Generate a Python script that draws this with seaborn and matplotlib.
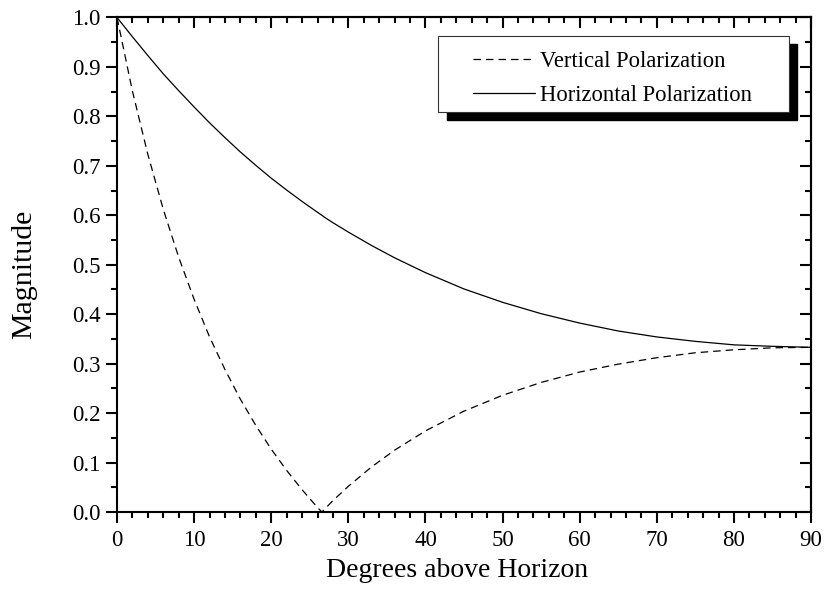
import matplotlib
matplotlib.use("Agg")
import matplotlib.pyplot as plt
import seaborn as sns
import pandas as pd
from matplotlib.patches import Rectangle
from matplotlib.ticker import MultipleLocator

# Values (degrees above horizon vs magnitude)
angle_deg = [0, 2, 4, 6, 8, 10, 12, 14, 16, 18, 20, 22, 24, 26, 26.57, 27, 28,
             30, 33, 36, 40, 45, 50, 55, 60, 65, 70, 75, 80, 85, 90]
vertical_mag = [1.000, 0.851, 0.723, 0.612, 0.515, 0.430, 0.354, 0.288, 0.228,
                0.175, 0.127, 0.084, 0.045, 0.009, 0.000, 0.007, 0.023, 0.052,
                0.091, 0.125, 0.164, 0.204, 0.236, 0.262, 0.283, 0.299, 0.312,
                0.322, 0.328, 0.332, 0.333]
horizontal_mag = [1.000, 0.961, 0.923, 0.886, 0.852, 0.819, 0.787, 0.757, 0.728,
                  0.701, 0.675, 0.651, 0.628, 0.606, 0.600, 0.595, 0.585, 0.566,
                  0.539, 0.514, 0.484, 0.451, 0.424, 0.401, 0.382, 0.366, 0.354,
                  0.345, 0.338, 0.335, 0.333]
series_labels = ["Vertical Polarization", "Horizontal Polarization"]
x_label = "Degrees above Horizon"
y_label = "Magnitude"

df_v = pd.DataFrame({"angle": angle_deg, "mag": vertical_mag})
df_h = pd.DataFrame({"angle": angle_deg, "mag": horizontal_mag})

sns.set_theme(style="white")
plt.rcParams["font.family"] = ["Liberation Serif", "DejaVu Serif"]

fig = plt.figure(figsize=(8.27, 5.91), dpi=100)
fig.patch.set_facecolor("white")
ax = fig.add_axes([0.1415, 0.1337, 0.9807 - 0.1415, 0.9704 - 0.1337])
ax.set_facecolor("white")

sns.lineplot(data=df_v, x="angle", y="mag", ax=ax, color="black", lw=0.9,
             label=series_labels[0], estimator=None, sort=False)
ax.lines[-1].set_dashes((6, 4))
sns.lineplot(data=df_h, x="angle", y="mag", ax=ax, color="black", lw=0.9,
             label=series_labels[1], estimator=None, sort=False)

ax.set_xlim(0, 90)
ax.set_ylim(0, 1.0)
ax.xaxis.set_major_locator(MultipleLocator(10))
ax.xaxis.set_minor_locator(MultipleLocator(2))
ax.yaxis.set_major_locator(MultipleLocator(0.1))
ax.yaxis.set_minor_locator(MultipleLocator(0.05))
ax.yaxis.set_major_formatter(matplotlib.ticker.FormatStrFormatter("%.1f"))

for s in ax.spines.values():
    s.set_visible(True)
    s.set_color("black")
    s.set_linewidth(1.5)

ax.tick_params(axis="both", which="major", direction="out", length=8, width=1.5,
               color="black", labelsize=16.5, labelcolor="black")
ax.tick_params(axis="both", which="minor", direction="out", length=4.5, width=1.5,
               color="black")
ax.tick_params(axis="x", which="major", pad=5)
ax.tick_params(axis="y", which="major", pad=4)
ax.tick_params(left=True, bottom=True, which="both")

# top and right ticks pointing inward
top = ax.secondary_xaxis("top")
top.xaxis.set_major_locator(MultipleLocator(10))
top.xaxis.set_minor_locator(MultipleLocator(2))
top.tick_params(which="major", direction="in", length=8, width=1.5, labeltop=False, color="black")
top.tick_params(which="minor", direction="in", length=4.5, width=1.5, color="black")
top.spines["top"].set_linewidth(1.5)
right = ax.secondary_yaxis("right")
right.yaxis.set_major_locator(MultipleLocator(0.1))
right.yaxis.set_minor_locator(MultipleLocator(0.05))
right.tick_params(which="major", direction="in", length=8, width=1.5, labelright=False, color="black")
right.tick_params(which="minor", direction="in", length=4.5, width=1.5, color="black")
right.spines["right"].set_linewidth(1.5)

ax.set_xlabel(x_label, fontsize=20, color="black")
ax.set_ylabel(y_label, fontsize=21.5, color="black")
ax.xaxis.set_label_coords(0.49, -0.093)
ax.yaxis.set_label_coords(-0.115, 0.48)

# Legend frame with hard black drop shadow
fx0, fx1 = 0.4625, 0.968
fy0, fy1 = 0.8089, 0.9626
dx, dy = 8.5 / 694, 8.5 / 494.5
ax.add_patch(Rectangle((fx0 + dx, fy0 - dy), fx1 - fx0, fy1 - fy0,
                       transform=ax.transAxes, facecolor="black", edgecolor="black",
                       zorder=6, clip_on=False))
ax.add_patch(Rectangle((fx0, fy0), fx1 - fx0, fy1 - fy0,
                       transform=ax.transAxes, facecolor="white", edgecolor="#333333",
                       lw=0.8, zorder=7, clip_on=False))
leg = ax.legend(loc="upper left", bbox_to_anchor=(0.513, 0.932), frameon=False,
                fontsize=16.3, handlelength=2.74, handletextpad=0.22, borderpad=0,
                borderaxespad=0, labelspacing=0.55)
leg.set_zorder(8)
for t in leg.get_texts():
    t.set_color("black")

fig.savefig("out.png", dpi=100, facecolor="white")
